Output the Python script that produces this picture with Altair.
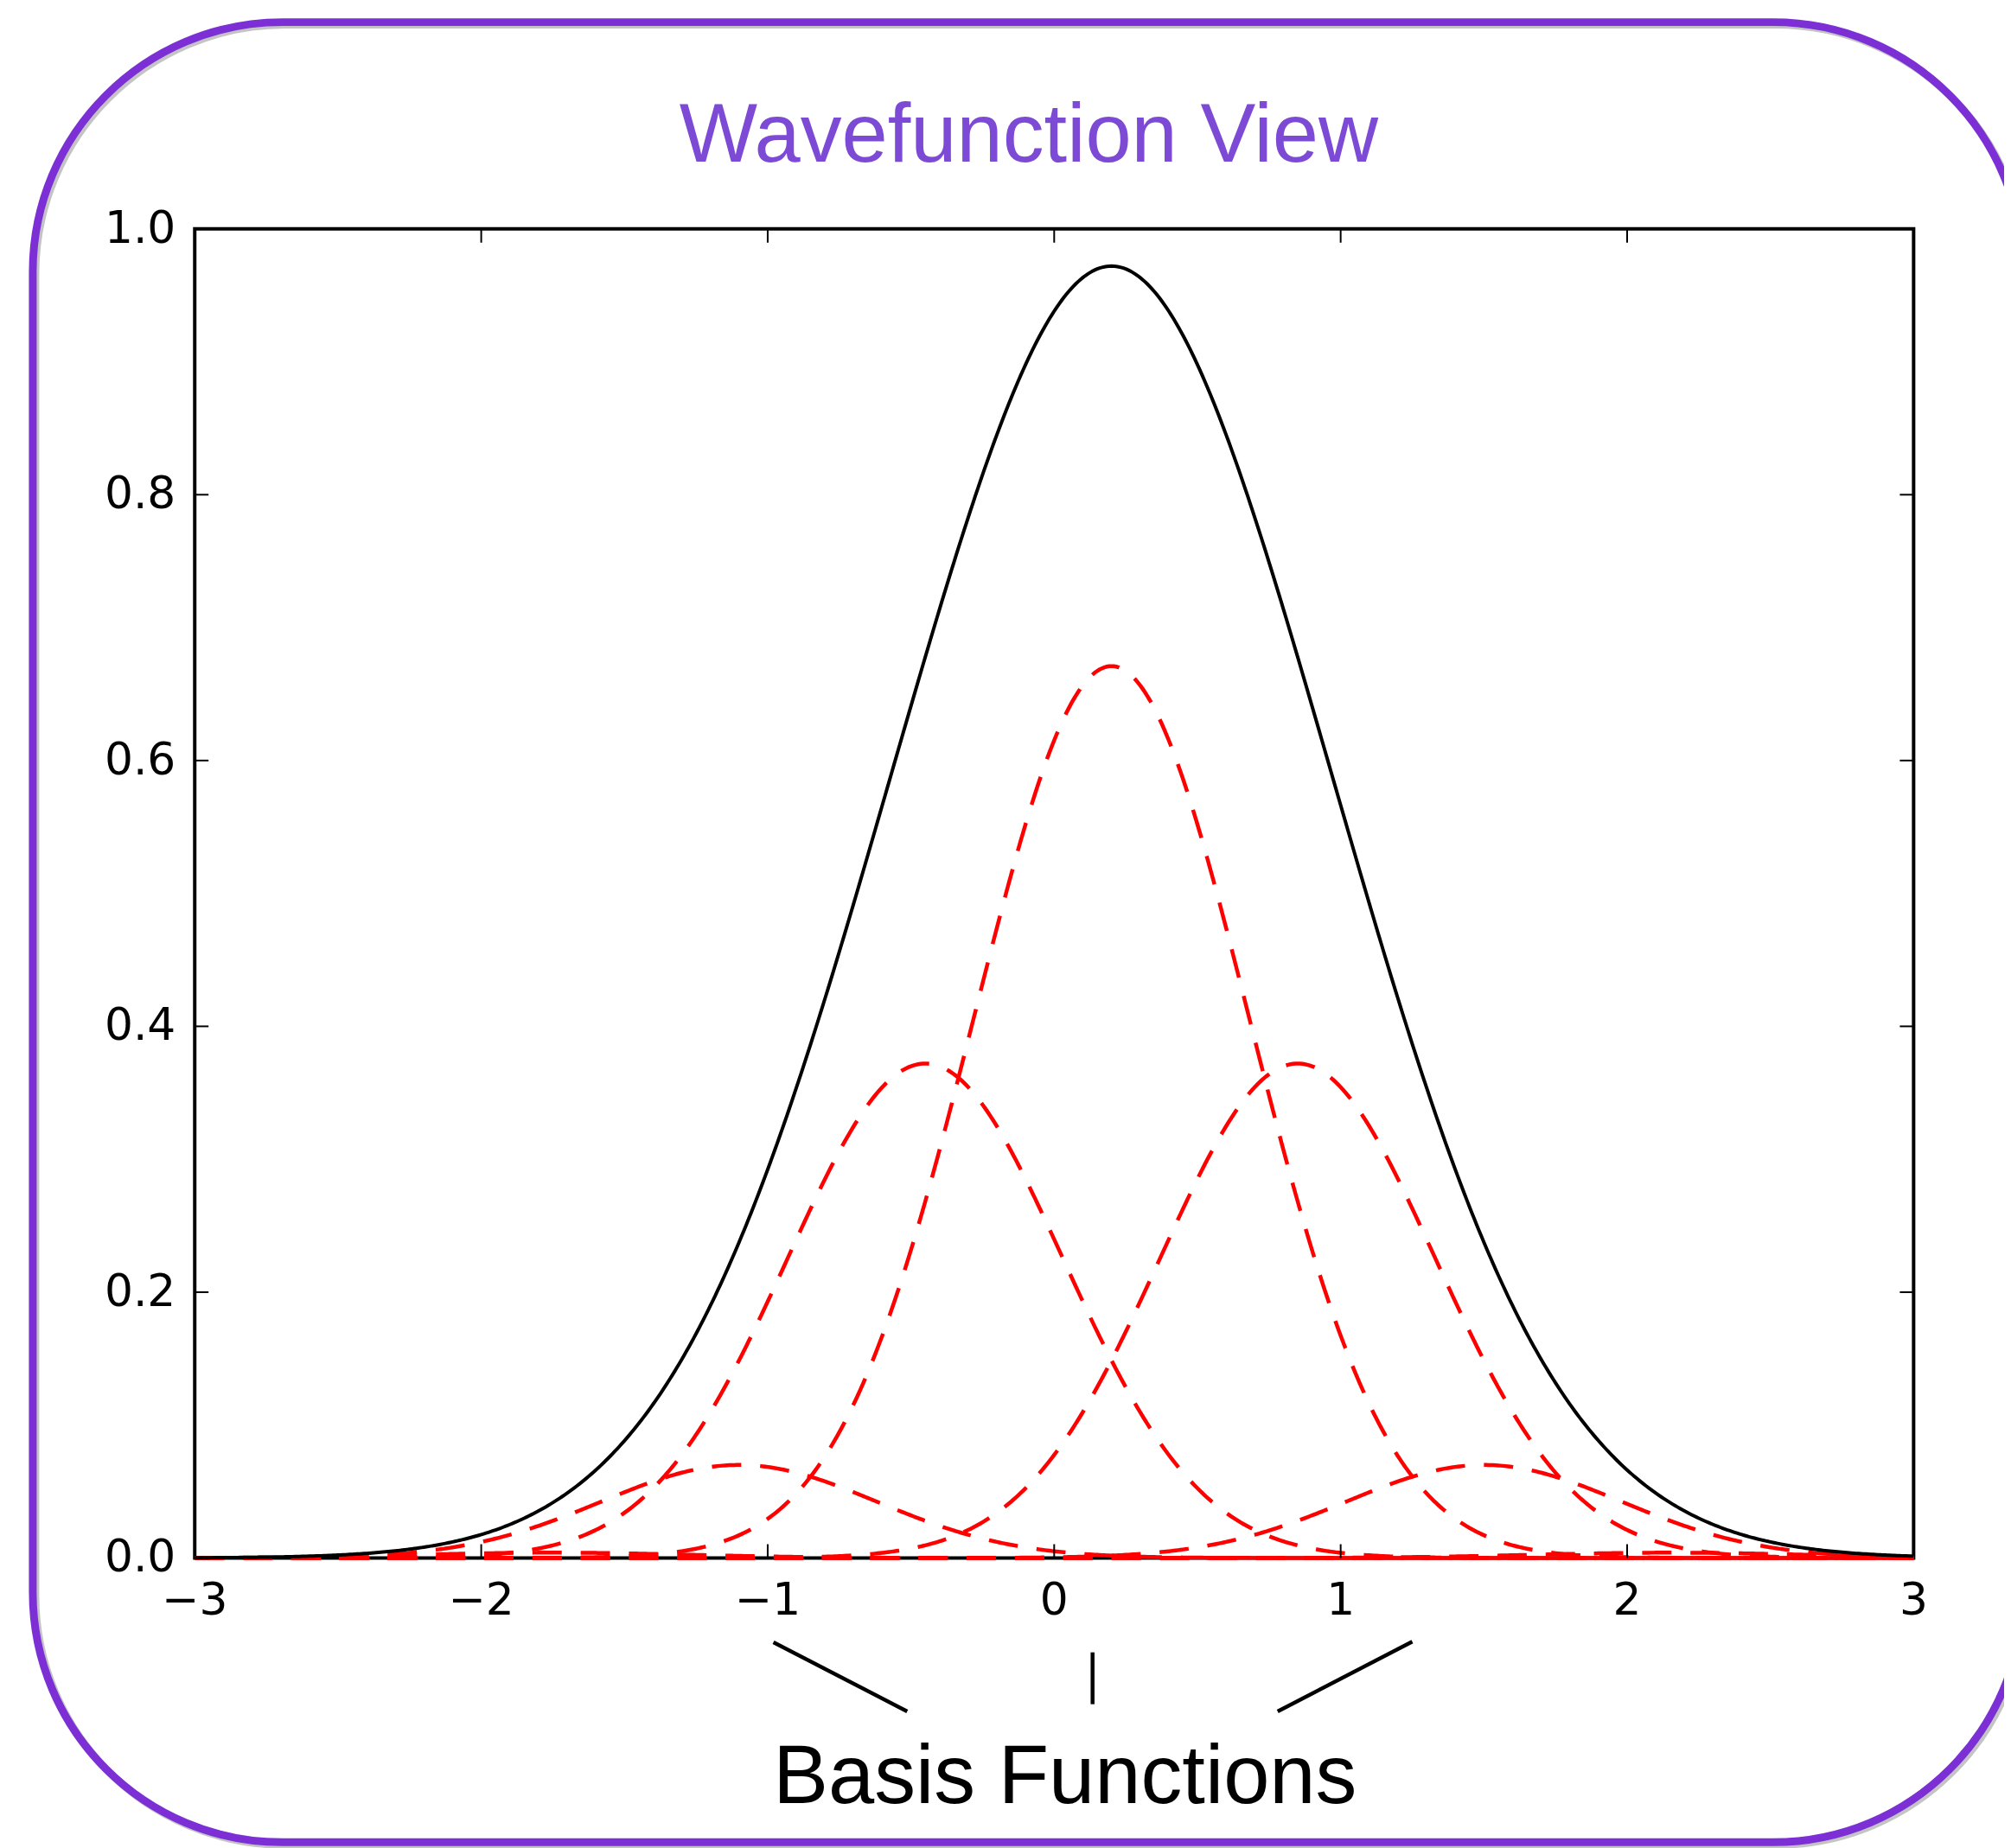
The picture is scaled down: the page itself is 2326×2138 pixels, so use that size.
import numpy as np
import pandas as pd
import altair as alt

# ---- data ----
basis_centers = [-1.75, -1.10, -0.45, 0.20, 0.85, 1.50, 2.15]
basis_amplitudes = [0.004, 0.070, 0.372, 0.671, 0.372, 0.070, 0.004]
basis_sigma = 0.48
x_ticks = [-3, -2, -1, 0, 1, 2, 3]
y_ticks = [0.0, 0.2, 0.4, 0.6, 0.8, 1.0]
x_tick_labels = ["\u22123", "\u22122", "\u22121", "0", "1", "2", "3"]
y_tick_labels = ["0.0", "0.2", "0.4", "0.6", "0.8", "1.0"]
title_text = ["Wavefunction View"]
note_text = ["Basis Functions"]

# annotation pointer lines (data units, below the axis)
pointer_x = [-0.98, 0.134, 1.25]
pointer_y = [-0.0635, -0.071, -0.063]
pointer_x2 = [-0.513, 0.134, 0.78]
pointer_y2 = [-0.1154, -0.110, -0.1154]

# ---- build tables ----
xs = np.linspace(-3, 3, 721)
rows = []
total = np.zeros_like(xs)
for i, (c, a) in enumerate(zip(basis_centers, basis_amplitudes)):
    ys = a * np.exp(-((xs - c) ** 2) / (2 * basis_sigma ** 2))
    total += ys
    rows.append(pd.DataFrame({"x": xs, "y": ys, "basis": f"b{i}"}))
basis_df = pd.concat(rows, ignore_index=True)
total_df = pd.DataFrame({"x": xs, "y": total})

W, H = 1995, 1543
PURPLE = "#7B2FD4"
TITLE_PURPLE = "#7D4AD6"

xscale = alt.Scale(domain=[-3, 3], nice=False, zero=False)
yscale = alt.Scale(domain=[0, 1], nice=False, zero=False)

# frame shadow + frame
frame_df = pd.DataFrame({"k": [0]})
shadow = alt.Chart(frame_df).mark_rect(
    cornerRadius=290, fillOpacity=0, stroke="#555555", strokeWidth=9, strokeOpacity=0.35
).encode(x=alt.value(-185), x2=alt.value(2125), y=alt.value(-237), y2=alt.value(1876))
frame = alt.Chart(frame_df).mark_rect(
    cornerRadius=290, fillOpacity=0, stroke=PURPLE, strokeWidth=9
).encode(x=alt.value(-188), x2=alt.value(2122), y=alt.value(-240), y2=alt.value(1873))

red = alt.Chart(basis_df).mark_line(
    color="#ff0000", strokeWidth=4.5, strokeDash=[34, 22]
).encode(
    x=alt.X("x:Q", scale=xscale, axis=None),
    y=alt.Y("y:Q", scale=yscale, axis=None),
    detail="basis:N",
)

black = alt.Chart(total_df).mark_line(color="black", strokeWidth=4).encode(
    x=alt.X("x:Q", scale=xscale, axis=None),
    y=alt.Y("y:Q", scale=yscale, axis=None),
)

# inward ticks (matplotlib classic style) on all four sides
xt_df = pd.DataFrame({"x": x_ticks[1:-1]})
yt_df = pd.DataFrame({"y": y_ticks[1:-1]})
tick_len = 16
tb = alt.Chart(xt_df).mark_rule(color="black", strokeWidth=2).encode(
    x=alt.X("x:Q", scale=xscale, axis=None), y=alt.value(H), y2=alt.value(H - tick_len))
tt = alt.Chart(xt_df).mark_rule(color="black", strokeWidth=2).encode(
    x=alt.X("x:Q", scale=xscale, axis=None), y=alt.value(0), y2=alt.value(tick_len))
tl = alt.Chart(yt_df).mark_rule(color="black", strokeWidth=2).encode(
    y=alt.Y("y:Q", scale=yscale, axis=None), x=alt.value(0), x2=alt.value(tick_len))
tr = alt.Chart(yt_df).mark_rule(color="black", strokeWidth=2).encode(
    y=alt.Y("y:Q", scale=yscale, axis=None), x=alt.value(W), x2=alt.value(W - tick_len))

# tick labels
xl_df = pd.DataFrame({"v": x_ticks, "lab": x_tick_labels})
yl_df = pd.DataFrame({"v": y_ticks, "lab": y_tick_labels})
xlabels = alt.Chart(xl_df).mark_text(
    font="DejaVu Sans", fontSize=52, color="black", align="center", baseline="top"
).encode(x=alt.X("v:Q", scale=xscale, axis=None), y=alt.value(H + 25), text="lab:N")
ylabels = alt.Chart(yl_df).mark_text(
    font="DejaVu Sans", fontSize=52, color="black", align="right", baseline="middle"
).encode(y=alt.Y("v:Q", scale=yscale, axis=None), x=alt.value(-22), text="lab:N")

ptr_df = pd.DataFrame({"x": pointer_x, "y": pointer_y, "x2": pointer_x2, "y2": pointer_y2})
pointers = alt.Chart(ptr_df).mark_rule(color="black", strokeWidth=4.5).encode(
    x=alt.X("x:Q", scale=xscale, axis=None), x2="x2:Q",
    y=alt.Y("y:Q", scale=yscale, axis=None), y2="y2:Q")

title = alt.Chart(pd.DataFrame({"t": title_text})).mark_text(
    font="Liberation Sans", fontSize=96, color=TITLE_PURPLE, align="center",
    baseline="alphabetic"
).encode(text="t:N", x=alt.value(968), y=alt.value(-78))

note = alt.Chart(pd.DataFrame({"t": note_text})).mark_text(
    font="Liberation Sans", fontSize=96, color="black", align="center",
    baseline="alphabetic"
).encode(text="t:N", x=alt.value(1010), y=alt.value(1828))

chart = alt.layer(
    shadow, frame, red, black, tb, tt, tl, tr, xlabels, ylabels, pointers, title, note
).properties(
    width=W, height=H,
    autosize=alt.AutoSizeParams(type="none"),
    padding={"left": 218, "top": 254, "right": 105, "bottom": 333},
    background="white",
).configure_view(stroke="black", strokeWidth=4)

chart.save("out.html", embed_options={"renderer": "svg", "actions": False})
